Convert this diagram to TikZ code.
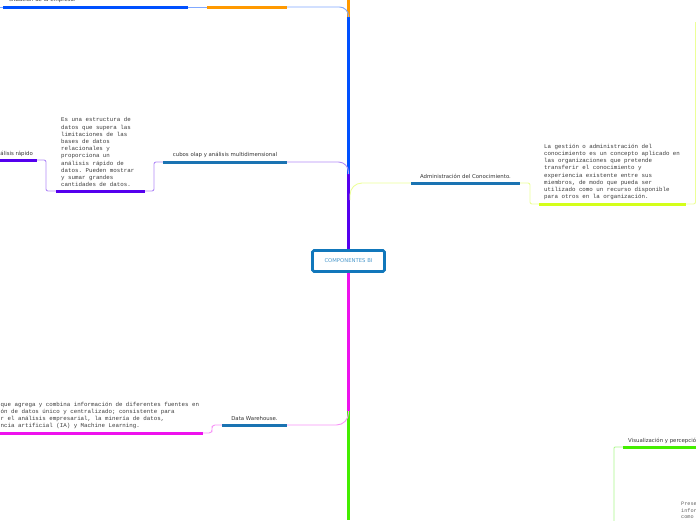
\documentclass[tikz,border=0pt]{standalone}
\usepackage{fontspec}
\usepackage{xcolor}
\setsansfont{DejaVu Sans}
\setmonofont{Liberation Mono}
\definecolor{branchblue}{HTML}{0050FF}
\definecolor{branchorange}{HTML}{FF9900}
\definecolor{branchpurple}{HTML}{5500EE}
\definecolor{branchyellow}{HTML}{D4FF1A}
\definecolor{branchmagenta}{HTML}{EE11EE}
\definecolor{branchgreen}{HTML}{44EE00}
\definecolor{topicteal}{HTML}{1A73B2}
\definecolor{rootblue}{HTML}{1177BB}
\definecolor{labelgrey}{HTML}{333333}
\definecolor{textgrey}{HTML}{3A3A3A}

\begin{document}
\begin{tikzpicture}[x=1pt, y=-1pt,
  trunk/.style={line width=2.6pt},
  ul/.style={line width=3pt},
  link/.style={line width=0.9pt},
  rootbox/.style={draw=rootblue, line width=2.6pt, rounded corners=1.5pt, fill=white, minimum width=72pt, minimum height=21pt, inner sep=0pt, font=\sffamily\fontsize{5.3}{6}\selectfont, text=rootblue!75},
  lbl/.style={font=\sffamily\fontsize{5.4}{6}\selectfont, text=labelgrey, inner sep=0pt},
  txt/.style={font=\ttfamily\fontsize{5.8}{7.2}\selectfont, text=textgrey, align=left, inner sep=0pt}]
\useasboundingbox (0,0) rectangle (696,520);
\coordinate (tTop) at (348.5,0);
\coordinate (jBlue) at (348.5,17);
\coordinate (jOlap) at (348.5,174);
\coordinate (jAdmin) at (350,200);
\coordinate (jDW) at (348.5,411);
\coordinate (tBot) at (348.5,520);
\coordinate (sitEdge) at (0,7);
\coordinate (sitL) at (3,7);
\coordinate (sitR) at (188,7);
\coordinate (orL) at (207,7);
\coordinate (orR) at (287,7);
\coordinate (rapL) at (0,160);
\coordinate (rapR) at (37,160);
\coordinate (esL) at (56,191);
\coordinate (esR) at (145,191);
\coordinate (olapL) at (163,162);
\coordinate (olapR) at (287,162);
\coordinate (adminL) at (411,183);
\coordinate (adminR) at (520,183);
\coordinate (gestL) at (539,204);
\coordinate (gestR) at (686,204);
\coordinate (gestUp) at (695.5,22);
\coordinate (dwL) at (222,425);
\coordinate (dwR) at (287,425);
\coordinate (wareL) at (0,433);
\coordinate (wareR) at (203,433);
\coordinate (visL) at (623,447);
\coordinate (visR) at (696,447);
\coordinate (visDown) at (614,522);
\coordinate (bendA) at (154,176);
\coordinate (bendB) at (46,175);
\coordinate (bendC) at (530,194);
\coordinate (bendE) at (212,429);
\node[rootbox] (root) at (348.5,261) {COMPONENTES BI};
\draw[trunk, branchblue] (root.north) -- (jBlue);
\draw[trunk, branchorange] (jBlue) -- (tTop);
\draw[trunk, branchpurple] (root.north) -- (jOlap);
\draw[trunk, branchgreen] (jDW) -- (tBot);
\draw[trunk, branchmagenta] (root.south) -- (jDW);
\draw[link, branchblue!50, rounded corners=9] (orR) -| (jBlue);
\draw[link, branchblue!50] (sitR) -- (orL) (sitEdge) -- (sitL);
\draw[link, branchpurple!45, rounded corners=10] (olapR) -| (jOlap);
\draw[link, branchpurple!45, rounded corners=2] (olapL) -| (bendA) |- (esR);
\draw[link, branchpurple!45, rounded corners=2] (esL) -| (bendB) |- (rapR);
\draw[link, branchyellow!45, rounded corners=12] (adminL) -| (jAdmin);
\draw[link, branchyellow!45, rounded corners=2] (adminR) -| (bendC) |- (gestL);
\draw[link, branchyellow!45, rounded corners=2] (gestR) -| (gestUp);
\draw[link, branchmagenta!45, rounded corners=12] (dwR) -| (jDW);
\draw[link, branchmagenta!45, rounded corners=3] (dwL) -| (bendE) |- (wareR);
\draw[link, branchgreen!45, rounded corners=1] (visL) -| (visDown);
\draw[ul, branchblue] (sitL) -- (sitR);
\draw[ul, branchorange] (orL) -- (orR);
\draw[ul, branchpurple] (rapL) -- (rapR);
\draw[ul, branchpurple] (esL) -- (esR);
\draw[ul, topicteal] (olapL) -- (olapR);
\draw[ul, topicteal] (adminL) -- (adminR);
\draw[ul, branchyellow] (gestL) -- (gestR);
\draw[ul, topicteal] (dwL) -- (dwR);
\draw[ul, branchmagenta] (wareL) -- (wareR);
\draw[ul, branchgreen] (visL) -- (visR);
\node[lbl, anchor=south west] (sitLbl) at (9,3) {situación de la empresa.};
\node[lbl, anchor=south east] (rapLbl) at (33,157) {análisis rápido};
\node[lbl, anchor=south] (olapLbl) at (225,158) {cubos olap y análisis multidimensional};
\node[lbl, anchor=south] (adminLbl) at (465.5,179) {Administración del Conocimiento.};
\node[lbl, anchor=south] (dwLbl) at (254.5,421) {Data Warehouse.};
\node[lbl, anchor=south west] (visLbl) at (628,444) {Visualización y percepción};
\node[txt, anchor=south west] (esTxt) at (61,187) {Es una estructura de\\datos que supera las\\limitaciones de las\\bases de datos\\relacionales y\\proporciona un\\análisis rápido de\\datos. Pueden mostrar\\y sumar grandes\\cantidades de datos.};
\node[txt, anchor=south west] (gestTxt) at (544,200) {La gestión o administración del\\conocimiento es un concepto aplicado en\\las organizaciones que pretende\\transferir el conocimiento y\\experiencia existente entre sus\\miembros, de modo que pueda ser\\utilizado como un recurso disponible\\para otros en la organización.};
\node[txt, anchor=south west] (wareTxt) at (0.5,429) {que agrega y combina información de diferentes fuentes en\\ón de datos único y centralizado; consistente para\\r el análisis empresarial, la minería de datos,\\ncia artificial (IA) y Machine Learning.};
\node[txt, anchor=north west, font=\ttfamily\fontsize{5.2}{6.6}\selectfont, text=textgrey!80] (visTxt) at (681,502) {Prese\\infor\\como};
\end{tikzpicture}
\end{document}
